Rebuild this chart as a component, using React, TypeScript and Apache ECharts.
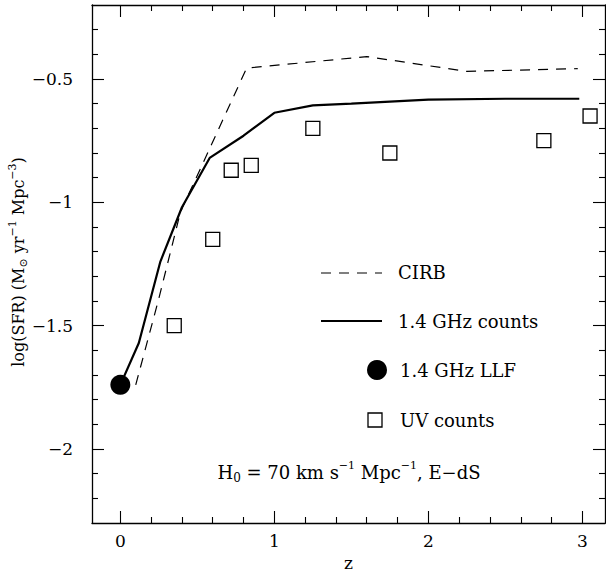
import React, { useEffect, useRef } from "react";
import * as echarts from "echarts";

// ---- data ----
const cirbZ = [0.1, 0.25, 0.39, 0.82, 1.6, 2.25, 2.97];
const cirbLogSFR = [-1.74, -1.39, -1.04, -0.456, -0.409, -0.469, -0.458];

const radioZ = [0, 0.12, 0.26, 0.4, 0.58, 0.8, 1.0, 1.25, 1.5, 2.0, 2.5, 2.98];
const radioLogSFR = [-1.74, -1.57, -1.24, -1.02, -0.82, -0.73, -0.637, -0.607, -0.6, -0.584, -0.58, -0.58];

const llfZ = [0];
const llfLogSFR = [-1.74];

const uvZ = [0.35, 0.6, 0.72, 0.85, 1.25, 1.75, 2.75, 3.05];
const uvLogSFR = [-1.5, -1.15, -0.87, -0.85, -0.7, -0.8, -0.75, -0.65];

const xMajorTicks = [0, 1, 2, 3];
const xMinorTicks = [0.2, 0.4, 0.6, 0.8, 1.2, 1.4, 1.6, 1.8, 2.2, 2.4, 2.6, 2.8];
const yMajorTicks = [-2, -1.5, -1, -0.5];
const yMinorTicks = [
  -2.2, -2.1, -1.9, -1.8, -1.7, -1.6, -1.4, -1.3, -1.2, -1.1, -0.9, -0.8, -0.7, -0.6, -0.4, -0.3,
];

const X_MIN = -0.184;
const X_MAX = 3.147;
const Y_MIN = -2.3;
const Y_MAX = -0.2;

const FONT = "'DejaVu Serif', 'Liberation Serif', serif";

const pairs = (xs: number[], ys: number[]) => xs.map((x, i) => [x, ys[i]]);

export default function App() {
  const ref = useRef<HTMLDivElement>(null);

  useEffect(() => {
    if (!ref.current) return;
    const chart = echarts.init(ref.current, undefined, { renderer: "svg" });

    const mkX = (position: "bottom" | "top", major: boolean, showLine: boolean, labels: boolean): any => ({
      type: "value",
      position,
      min: X_MIN,
      max: X_MAX,
      axisLine: { show: showLine, onZero: false, lineStyle: { color: "#000", width: 1.3 } },
      axisTick: {
        show: true,
        inside: true,
        length: major ? 12 : 6,
        customValues: major ? xMajorTicks : xMinorTicks,
        lineStyle: { color: "#000", width: 1.1 },
      },
      axisLabel: labels
        ? {
            show: true,
            customValues: xMajorTicks,
            fontFamily: FONT,
            fontSize: 17,
            color: "#000",
            margin: 9,
          }
        : { show: false },
      splitLine: { show: false },
      ...(labels
        ? {
            name: "z",
            nameLocation: "middle",
            nameGap: 31,
            nameTextStyle: { fontFamily: FONT, fontSize: 17, color: "#000" },
          }
        : {}),
    });

    const mkY = (position: "left" | "right", major: boolean, showLine: boolean, labels: boolean): any => ({
      type: "value",
      position,
      min: Y_MIN,
      max: Y_MAX,
      axisLine: { show: showLine, onZero: false, lineStyle: { color: "#000", width: 1.3 } },
      axisTick: {
        show: true,
        inside: true,
        length: major ? 12 : 6,
        customValues: major ? yMajorTicks : yMinorTicks,
        lineStyle: { color: "#000", width: 1.1 },
      },
      axisLabel: labels
        ? {
            show: true,
            customValues: yMajorTicks,
            formatter: (v: number) => String(v).replace("-", "−"),
            fontFamily: FONT,
            fontSize: 17,
            color: "#000",
            margin: 19,
          }
        : { show: false },
      splitLine: { show: false },
    });

    const legendText = (x: number, y: number, text: string) => ({
      type: "text",
      x,
      y,
      style: {
        text,
        fontFamily: FONT,
        fontSize: 18,
        fill: "#000",
        verticalAlign: "middle",
        align: "left",
      },
    });

    chart.setOption({
      animation: false,
      backgroundColor: "#fff",
      grid: { left: 92, top: 5, width: 513, height: 520, containLabel: false },
      xAxis: [
        mkX("bottom", true, true, true),
        mkX("bottom", false, false, false),
        mkX("top", true, true, false),
        mkX("top", false, false, false),
      ],
      yAxis: [
        mkY("left", true, true, true),
        mkY("left", false, false, false),
        mkY("right", true, true, false),
        mkY("right", false, false, false),
      ],
      series: [
        {
          name: "CIRB",
          type: "line",
          data: pairs(cirbZ, cirbLogSFR),
          symbol: "none",
          lineStyle: { color: "#000", width: 1.2, type: [10, 8] },
        },
        {
          name: "1.4 GHz counts",
          type: "line",
          data: pairs(radioZ, radioLogSFR),
          symbol: "none",
          lineStyle: { color: "#000", width: 2.2 },
        },
        {
          name: "1.4 GHz LLF",
          type: "scatter",
          data: pairs(llfZ, llfLogSFR),
          symbol: "circle",
          symbolSize: 20,
          z: 5,
          itemStyle: { color: "#000", opacity: 1 },
        },
        {
          name: "UV counts",
          type: "scatter",
          data: pairs(uvZ, uvLogSFR),
          symbol: "rect",
          symbolSize: 14,
          itemStyle: { color: "rgba(0,0,0,0)", borderColor: "#000", borderWidth: 1.3, opacity: 1 },
        },
      ],
      graphic: [
        {
          type: "text",
          x: 18,
          y: 262,
          rotation: Math.PI / 2,
          style: {
            text: "log(SFR) (M{sub|⊙} yr{sup|−1} Mpc{sup|−3})",
            fontFamily: FONT,
            fontSize: 16,
            lineHeight: 22,
            fill: "#000",
            align: "center",
            verticalAlign: "middle",
            rich: {
              sup: { fontFamily: FONT, fontSize: 11, lineHeight: 11, verticalAlign: "top", fill: "#000" },
              sub: { fontFamily: FONT, fontSize: 11, lineHeight: 11, verticalAlign: "bottom", fill: "#000" },
            },
          },
        },
        {
          type: "line",
          shape: { x1: 321, y1: 273, x2: 382, y2: 273 },
          style: { stroke: "#000", lineWidth: 1.2, lineDash: [10, 8] },
        },
        legendText(398, 272, "CIRB"),
        {
          type: "line",
          shape: { x1: 321, y1: 321, x2: 382, y2: 321 },
          style: { stroke: "#000", lineWidth: 2.2 },
        },
        legendText(398, 321, "1.4 GHz counts"),
        {
          type: "circle",
          shape: { cx: 377, cy: 370, r: 10 },
          style: { fill: "#000" },
        },
        legendText(400, 370, "1.4 GHz LLF"),
        {
          type: "rect",
          shape: { x: 368, y: 413, width: 14, height: 14 },
          style: { fill: "none", stroke: "#000", lineWidth: 1.3 },
        },
        legendText(400, 420, "UV counts"),
        {
          type: "text",
          x: 349,
          y: 472,
          style: {
            text: "H{sub|0} = 70 km s{sup|−1} Mpc{sup|−1}, E−dS",
            fontFamily: FONT,
            fontSize: 18,
            lineHeight: 24,
            fill: "#000",
            align: "center",
            verticalAlign: "middle",
            rich: {
              sup: { fontFamily: FONT, fontSize: 11, lineHeight: 12, verticalAlign: "top", fill: "#000" },
              sub: { fontFamily: FONT, fontSize: 12, lineHeight: 12, verticalAlign: "bottom", fill: "#000" },
            },
          },
        },
      ],
    });

    return () => chart.dispose();
  }, []);

  return (
    <div
      ref={ref}
      style={{ position: "fixed", left: 0, top: 0, width: 606, height: 576, background: "#fff" }}
    />
  );
}
